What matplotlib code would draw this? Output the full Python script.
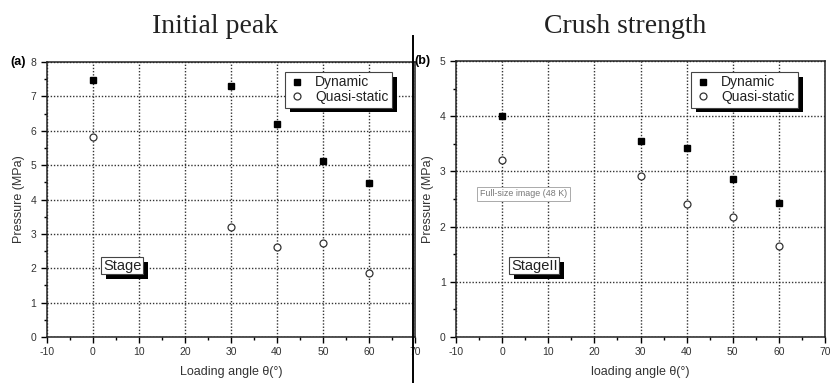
import matplotlib
matplotlib.use("Agg")
import matplotlib.pyplot as plt
import matplotlib.patheffects as pe
from matplotlib.lines import Line2D
from matplotlib.ticker import MultipleLocator

plt.rcParams['font.family'] = ['Liberation Sans', 'DejaVu Sans']
plt.rcParams['axes.unicode_minus'] = False

# loading angles (deg)
angles = [0, 30, 40, 50, 60]

# (a) initial peak pressure, MPa
peak_dynamic = [7.47, 7.30, 6.19, 5.13, 4.48]
peak_quasi = [5.82, 3.19, 2.62, 2.74, 1.85]

# (b) crush strength, MPa
crush_dynamic = [4.01, 3.55, 3.42, 2.86, 2.43]
crush_quasi = [3.21, 2.91, 2.40, 2.17, 1.65]

shadow = [pe.SimplePatchShadow(offset=(3.5, -3.5), shadow_rgbFace='k', alpha=1.0),
          pe.Normal()]


def style_axes(ax, ymax, xlabel):
    ax.set_xlim(-10, 70)
    ax.set_ylim(0, ymax)
    ax.xaxis.set_major_locator(MultipleLocator(10))
    ax.xaxis.set_minor_locator(MultipleLocator(5))
    ax.yaxis.set_major_locator(MultipleLocator(1))
    ax.yaxis.set_minor_locator(MultipleLocator(0.5))
    ax.tick_params(which='both', direction='out', top=False, right=False,
                   labelsize=7.5, labelcolor='#333333', width=1)
    ax.tick_params(which='major', length=4)
    ax.tick_params(which='minor', length=2)
    for s in ax.spines.values():
        s.set_linewidth(1.1)
        s.set_color('#222222')
    ax.grid(True, which='major', linestyle=(0, (1, 1.3)), color='#333333', linewidth=1.0)
    ax.set_axisbelow(True)
    ax.set_xlabel(xlabel, fontsize=9, color='#333333', labelpad=6)
    ax.set_ylabel('Pressure (MPa)', fontsize=9, color='#333333', labelpad=4)


def draw(ax, dyn, quasi, anchor):
    ax.plot(angles, dyn, 's', color='k', ms=4.3, label='Dynamic', zorder=3)
    ax.plot(angles, quasi, 'o', mfc='white', mec='#333333', mew=0.9, ms=5,
            label='Quasi-static', zorder=3)
    leg = ax.legend(loc='upper right', bbox_to_anchor=anchor, fontsize=10,
                    frameon=True, fancybox=False, edgecolor='#444444',
                    framealpha=1, borderpad=0.25, handletextpad=0.7,
                    handlelength=1.2, labelspacing=0.05, borderaxespad=0)
    leg.get_frame().set_linewidth(0.8)
    leg.get_frame().set_path_effects(shadow)
    for t in leg.get_texts():
        t.set_color('#222222')


def stage_box(ax, x, y, label):
    t = ax.text(x, y, label, transform=ax.transAxes, fontsize=10.5, color='#222222',
                ha='center', va='center', zorder=5,
                bbox=dict(boxstyle='square,pad=0.1', fc='white', ec='#444444', lw=0.8))
    t.get_bbox_patch().set_path_effects(shadow)


fig = plt.figure(figsize=(8.3, 3.83), dpi=100)

ax1 = fig.add_axes([0.0566, 0.120, 0.4434, 0.718])
style_axes(ax1, 8, 'Loading angle θ(°)')
draw(ax1, peak_dynamic, peak_quasi, (0.9375, 0.964))
stage_box(ax1, 0.204, 0.26, 'Stage')

ax2 = fig.add_axes([0.5494, 0.120, 0.4446, 0.721])
style_axes(ax2, 5, 'loading angle θ(°)')
draw(ax2, crush_dynamic, crush_quasi, (0.927, 0.96))
stage_box(ax2, 0.212, 0.258, 'StageII')
ax2.text(0.183, 0.518, 'Full-size image (48 K)', transform=ax2.transAxes,
         fontsize=6.4, color='#777777', ha='center', va='center', zorder=5,
         bbox=dict(boxstyle='square,pad=0.3', fc='white', ec='#aaaaaa', lw=0.7))

# panel tags and headings
fig.text(0.012, 0.838, '(a)', fontsize=9, fontweight='bold', va='center')
fig.text(0.499, 0.841, '(b)', fontsize=9, fontweight='bold', va='center')
fig.text(0.2596, 0.914, 'Initial peak', fontsize=20, family='Liberation Serif',
         ha='center', va='baseline', color='#222222')
fig.text(0.753, 0.914, 'Crush strength', fontsize=20, family='Liberation Serif',
         ha='center', va='baseline', color='#222222')

fig.add_artist(Line2D([0.4976, 0.4976], [0.0, 0.906], color='k', lw=1.4))

fig.savefig('out.png', dpi=100)
